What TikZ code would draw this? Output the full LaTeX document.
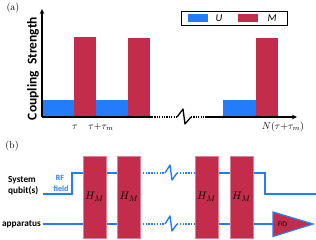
\documentclass[tikz,border=0pt]{standalone}
\usepackage{fontspec}
\setsansfont{Carlito}
\usetikzlibrary{arrows.meta}
\definecolor{qblue}{RGB}{35,125,250}
\definecolor{qred}{RGB}{196,44,76}
\begin{document}
\begin{tikzpicture}[x=1pt,y=-1pt,
  ubar/.style={fill=qblue},
  mbar/.style={fill=qred},
  axisline/.style={line width=1.1pt,black},
  dotline/.style={line width=1.1pt,dash pattern=on 1.2pt off 1.2pt},
  tickdot/.style={fill=black},
  wire/.style={line width=1.4pt,qblue},
  wiredot/.style={line width=1.4pt,qblue,dash pattern=on 1.4pt off 1.4pt},
  hbox/.style={fill=qred,draw=qred!60!white,line width=0.4pt,minimum width=23pt,minimum height=82pt,inner sep=0pt,font=\fontsize{11}{11}\selectfont},
  lbl/.style={font=\fontsize{10}{10}\selectfont},
  sflbl/.style={font=\sffamily\bfseries\fontsize{9.3}{9.3}\selectfont,inner sep=0pt},
  mathlbl/.style={font=\fontsize{10}{10}\selectfont,inner sep=0pt}
]
\useasboundingbox (0,0) rectangle (316,240);
% ---------- panel (a) ----------
\node[lbl] (la) at (13,8) {(a)};
\fill[ubar] (42,100) rectangle (74,117);
\fill[mbar] (74,37) rectangle (96,117);
\fill[ubar] (96,100) rectangle (128,117);
\fill[mbar] (128,38) rectangle (150,117);
\fill[ubar] (223,100) rectangle (256,117);
\fill[mbar] (256,38) rectangle (278,117);
\coordinate (o) at (42,117);
\coordinate (ytop) at (42,9);
\draw[axisline,-{Stealth[length=5pt,width=4.5pt]}] (o) -- (ytop);
\coordinate (xa) at (152,117);
\coordinate (xb) at (177,117);
\coordinate (xc) at (191,117);
\coordinate (xd) at (205,117);
\coordinate (xe) at (297,117);
\draw[axisline] (o) -- (xa);
\draw[dotline] (xa) -- (xb);
\draw[line width=1.3pt,line join=round] (xb) -- (183,109) -- (185,124) -- (xc);
\draw[dotline] (xc) -- (xd);
\draw[axisline,-{Stealth[length=5pt,width=4.5pt]}] (xd) -- (xe);
\foreach \x in {74,96,128,150,223,256,278} \fill[tickdot] (\x,117) circle (1.3);
\node[mathlbl] (t1) at (75,127) {$\tau$};
\node[mathlbl] (t2) at (101,127) {$\tau{+}\tau_m$};
\node[mathlbl] (tN) at (283,127) {$N(\tau{+}\tau_m)$};
\node[font=\sffamily\bfseries\fontsize{13.5}{13.5}\selectfont,rotate=90,inner sep=0pt] (cs) at (33,68.5) {Coupling\ \ Strength};
% legend
\draw[line width=0.8pt] (181,11) rectangle (287,25);
\fill[ubar] (188,14) rectangle (208,22);
\node[font=\sffamily\itshape\fontsize{10.5}{10.5}\selectfont] (lu) at (219,18.5) {U};
\fill[mbar] (238,14) rectangle (258,22);
\node[font=\sffamily\itshape\fontsize{10.5}{10.5}\selectfont] (lm) at (272,18.5) {M};
% ---------- panel (b) ----------
\node[lbl] (lb) at (12,146) {(b)};
\node[sflbl,anchor=west] (sys1) at (8,180) {System};
\node[sflbl,anchor=west] (sys2) at (8,191) {qubit(s)};
\node[sflbl,anchor=east] (app) at (41,224) {apparatus};
\node[font=\sffamily\bfseries\fontsize{8}{8}\selectfont,text=qblue,inner sep=0pt] (rf1) at (60,178) {RF};
\node[font=\sffamily\bfseries\fontsize{8}{8}\selectfont,text=qblue,inner sep=0pt] (rf2) at (61,189) {field};
% wires
\coordinate (s0) at (43,194);
\coordinate (s1) at (72,194);
\coordinate (s2) at (72,173);
\coordinate (s3) at (165,173);
\coordinate (s4) at (177,173);
\coordinate (s5) at (265,173);
\coordinate (s6) at (265,194);
\coordinate (s7) at (316,194);
\coordinate (a0) at (43,224);
\coordinate (a1) at (165,224);
\coordinate (a2) at (177,224);
\draw[wire,line join=miter] (s0) -- (s1) -- (s2) -- (140,173);
\draw[wiredot] (140,173) -- (s3);
\draw[wire,line join=round] (s3) -- (170,165) -- (172,180) -- (s4);
\draw[wiredot] (s4) -- (195,173);
\draw[wire,line join=miter] (195,173) -- (s5) -- (s6) -- (s7);
\draw[wire] (a0) -- (140,224);
\draw[wiredot] (140,224) -- (a1);
\draw[wire,line join=round] (a1) -- (170,216) -- (172,231) -- (a2);
\draw[wiredot] (a2) -- (195,224);
\draw[wire] (195,224) -- (273,224);
% boxes
\node[hbox] (h1) at (94.5,197) {$H_M$};
\node[hbox] (h2) at (129,197) {$H_M$};
\node[hbox] (h3) at (206.5,197) {$H_M$};
\node[hbox] (h4) at (241.5,197) {$H_M$};
% FID
\draw[fill=qred,draw=qblue,line width=1.2pt,line join=miter] (273,212) -- (313,224) -- (273,236.5) -- cycle;
\node[font=\sffamily\fontsize{7}{7}\selectfont,inner sep=0pt] (fid) at (282.5,224.5) {FID};
\end{tikzpicture}
\end{document}
